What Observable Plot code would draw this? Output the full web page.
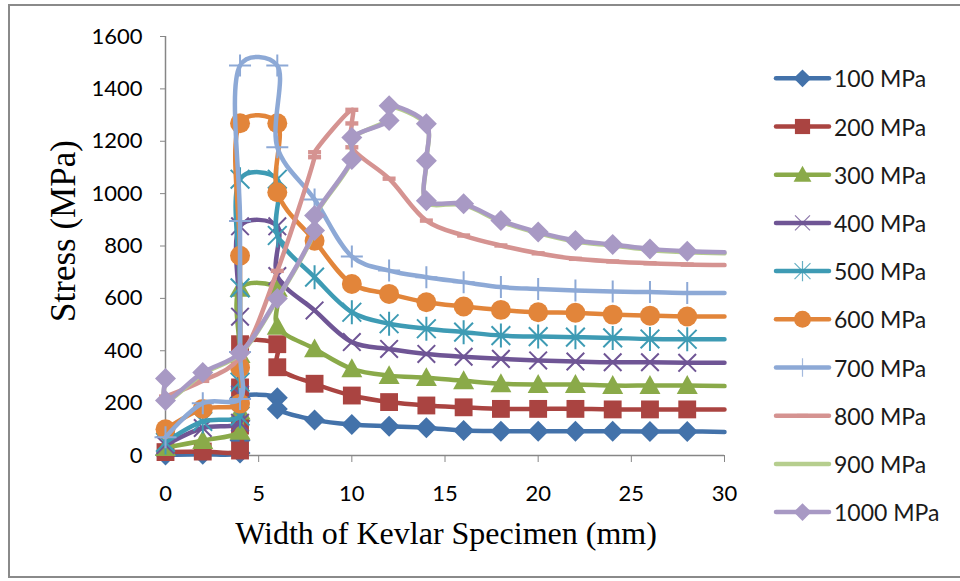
<!DOCTYPE html>
<html><head><meta charset="utf-8">
<script src="https://cdn.jsdelivr.net/npm/d3@7"></script>
<script src="https://cdn.jsdelivr.net/npm/@observablehq/plot@0.6"></script>
<style>
body{margin:0;background:#fff;}
#wrap{position:relative;width:960px;height:581px;overflow:hidden;background:#fff;}
#border{position:absolute;left:8px;top:4px;width:1000px;height:574px;border:2px solid #8a8a8a;box-sizing:border-box;}
#chart{position:absolute;left:0;top:0;}
#overlay{position:absolute;left:0;top:0;}
g[aria-label="x-axis tick"], g[aria-label="y-axis tick"]{color:#868686;}
g[aria-label="x-axis"] .tick line, g[aria-label="y-axis"] .tick line{stroke:#868686;}
</style></head>
<body>
<div id="wrap"><div id="border"></div><div id="chart"></div><svg id="overlay" width="960" height="581"></svg></div>
<script>
// ---- data ----
const seriesNames = ["100 MPa","200 MPa","300 MPa","400 MPa","500 MPa","600 MPa","700 MPa","800 MPa","900 MPa","1000 MPa"];
const seriesColors = ["#4372AA","#AA4441","#8AAA49","#6F5595","#3E9BB4","#E2853A","#8DA9D6","#D59391","#B6CE8E","#A899C4"];
const xTicks = [0,5,10,15,20,25,30];
const yTicks = [0,200,400,600,800,1000,1200,1400,1600];

// width (mm) for the seven series that jump at 4-6 mm
const xSpike = [0,2,4,4,4,4,6,6,8,10,12,14,16,18,20,22,24,26,28,30];
const y100 = [2,5,10,58,133,221,221,178,136,118,112,106,95,93,93,93,93,92,92,90];
const y200 = [13,15,19,114,260,425,425,337,274,229,204,191,184,178,178,178,176,176,176,176];
const y300 = [30,57,92,170,385,638,638,493,407,331,305,297,285,274,271,271,267,267,267,265];
const y400 = [40,105,125,233,530,875,875,685,554,433,407,388,377,369,363,359,356,356,354,354];
const y500 = [50,130,150,280,640,1055,1055,840,681,547,503,484,471,458,454,452,449,445,444,444];
const y600 = [100,178,198,336,763,1269,1269,1005,820,655,617,585,569,556,547,545,538,534,531,531];
const y700 = [70,200,216,395,895,1489,1489,1177,978,760,706,681,662,643,636,630,626,624,621,621];

const x800 = [0,2,4,6,8,8,10,10,10,12,14,16,18,20,22,24,26,28,30];
const y800 = [225,285,375,705,1139,1158,1320,1268,1177,1057,897,840,802,772,751,741,734,729,727];

const xPeak = [0,0,2,4,6,8,8,10,10,12,12,14,14,14,16,18,20,22,24,26,28,30];
const y900  = [290,206,312,388,596,855,912,1126,1210,1284,1331,1262,1121,968,957,893,849,817,802,785,776,772];
const y1000 = [294,210,317,392,600,859,916,1130,1214,1279,1336,1267,1126,973,961,897,853,821,806,789,780,776];

const seriesX = [xSpike,xSpike,xSpike,xSpike,xSpike,xSpike,xSpike,x800,xPeak,xPeak];
const seriesY = [y100,y200,y300,y400,y500,y600,y700,y800,y900,y1000];
const lastX = 30; // lines run to 30 mm, markers stop before it

// ---- marker shapes (r = radius in px) ----
const R = s => Math.sqrt(s/Math.PI);
const symDiamond = {draw(c,s){const r=R(s);c.moveTo(0,-r);c.lineTo(r,0);c.lineTo(0,r);c.lineTo(-r,0);c.closePath();}};
const symSquare = {draw(c,s){const r=R(s)*0.85;c.moveTo(-r,-r);c.lineTo(r,-r);c.lineTo(r,r);c.lineTo(-r,r);c.closePath();}};
const symTriangle = {draw(c,s){const r=R(s);c.moveTo(0,-r);c.lineTo(r,0.8*r);c.lineTo(-r,0.8*r);c.closePath();}};
const symTimes = {draw(c,s){const h=R(s)*0.8;c.moveTo(-h,-h);c.lineTo(h,h);c.moveTo(-h,h);c.lineTo(h,-h);}};
const symAsterisk = {draw(c,s){const r=R(s),h=r*0.78;c.moveTo(-h,-h);c.lineTo(h,h);c.moveTo(-h,h);c.lineTo(h,-h);c.moveTo(0,-r);c.lineTo(0,r);}};
const symCircle = {draw(c,s){const r=R(s)*0.95;c.moveTo(r,0);c.arc(0,0,r,0,2*Math.PI);}};
const symPlus = {draw(c,s){const r=R(s);c.moveTo(-r,0);c.lineTo(r,0);c.moveTo(0,-r);c.lineTo(0,r);}};
const symDash = {draw(c,s){const r=R(s);const w=0.65*r,h=0.22*r;c.moveTo(-w,-h);c.lineTo(w,-h);c.lineTo(w,h);c.lineTo(-w,h);c.closePath();}};

const markers = [
  {sym:symDiamond, r:10.5, filled:true},
  {sym:symSquare, r:10.5, filled:true},
  {sym:symTriangle, r:10.5, filled:true},
  {sym:symTimes, r:11, filled:false, sw:2},
  {sym:symAsterisk, r:12, filled:false, sw:2},
  {sym:symCircle, r:10.5, filled:true},
  {sym:symPlus, r:11, filled:false, sw:2},
  {sym:symDash, r:10, filled:true},
  null,
  {sym:symDiamond, r:10.5, filled:true}
];

// ---- build table ----
const rows = [];
seriesNames.forEach((name,i)=>{
  seriesX[i].forEach((x,j)=>rows.push({series:name, i, x, y:seriesY[i][j]}));
});

const marks = [
  Plot.ruleX([0], {stroke:"#868686", strokeWidth:1.5}),
  Plot.ruleY([0], {stroke:"#868686", strokeWidth:1.5})
];
seriesNames.forEach((name,i)=>{
  const data = rows.filter(r=>r.i===i);
  const col = seriesColors[i];
  marks.push(Plot.line(data, {x:"x", y:"y", stroke:col, strokeWidth:4.5, curve:"catmull-rom", tension:0.3, strokeLinecap:"round", strokeLinejoin:"round"}));
  const m = markers[i];
  if (m) {
    marks.push(Plot.dot(data.filter(d=>d.x<lastX), {
      x:"x", y:"y", symbol:m.sym, r:m.r,
      fill: m.filled ? col : "none",
      stroke: m.filled ? "none" : col,
      strokeWidth: m.sw || 1
    }));
  }
});

const chart = Plot.plot({
  width:960, height:581,
  marginLeft:165, marginRight:236, marginTop:36, marginBottom:126,
  x:{domain:[0,30], ticks:xTicks, tickSize:7, tickPadding:23, label:null, tickFormat:d=>String(d)},
  y:{domain:[0,1600], ticks:yTicks, tickSize:5, tickPadding:18, label:null, tickFormat:d=>String(d)},
  style:{fontFamily:"Lato", fontSize:"22px", color:"#000", background:"transparent", overflow:"visible"},
  marks
});
document.getElementById("chart").appendChild(chart);

// ---- titles and legend ----
const ov = d3.select("#overlay");
ov.append("text").attr("x",446).attr("y",533).attr("text-anchor","middle").attr("dominant-baseline","central")
  .style("font-family","'Liberation Serif', 'Times New Roman', serif").style("font-size","32px").attr("fill","#000")
  .text("Width of Kevlar Specimen (mm)");
ov.append("text").attr("transform","translate(63,231) rotate(-90)").attr("text-anchor","middle").attr("dominant-baseline","central")
  .style("font-family","'Liberation Serif', 'Times New Roman', serif").style("font-size","35px").attr("fill","#000")
  .text("Stress (MPa)");

const legendTop = 78.3, legendStep = 48.2;
seriesNames.forEach((name,i)=>{
  const cy = legendTop + i*legendStep;
  const g = ov.append("g").attr("transform",`translate(0,${cy})`);
  const col = seriesColors[i];
  g.append("line").attr("x1",776).attr("x2",829).attr("y1",0).attr("y2",0)
    .attr("stroke",col).attr("stroke-width",4.5).attr("stroke-linecap","round");
  const m = markers[i];
  if (m) {
    const rr = m.r*0.85;
    g.append("path").attr("transform","translate(802.5,0)")
      .attr("d", d3.symbol(m.sym, Math.PI*rr*rr)())
      .attr("fill", m.filled ? col : "none")
      .attr("stroke", m.filled ? "none" : col)
      .attr("stroke-width", m.filled ? 0 : 1.2)
      .attr("opacity", m.filled ? 1 : 0.8);
  }
  g.append("text").attr("x",834).attr("y",0).attr("dominant-baseline","central")
    .style("font-family","Lato").style("font-size","23px").attr("fill","#1a1a1a").text(name);
});
</script>
</body></html>
